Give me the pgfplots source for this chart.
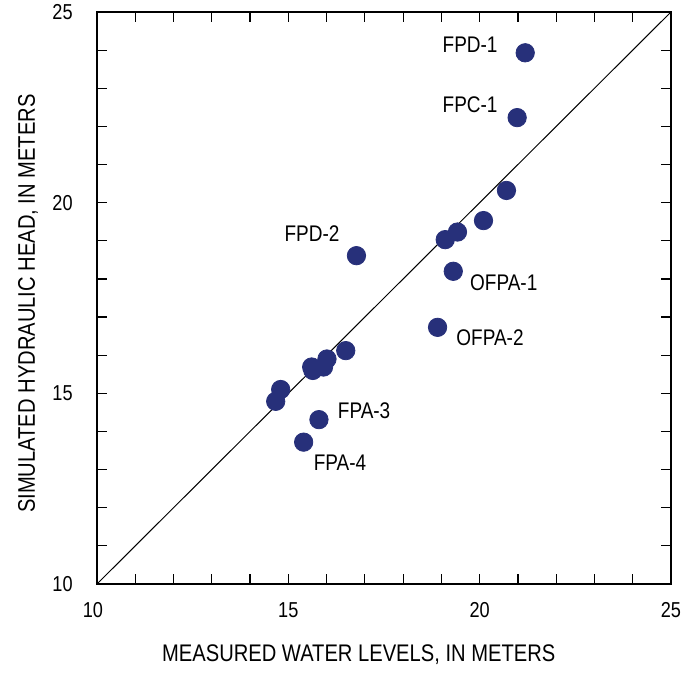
\documentclass[border=0pt]{standalone}
\usepackage{pgfplots}
\pgfplotsset{compat=1.18}
\usepackage{fontspec}
\setmainfont{Liberation Sans}[FakeStretch=0.84]
\definecolor{navy}{HTML}{27307A}
\begin{document}
\begin{tikzpicture}
\begin{axis}[
  name=a,
  scale only axis,
  width=287pt, height=286pt,
  xmin=10, xmax=25, ymin=10, ymax=25,
  xtick={10,15,20,25}, ytick={10,15,20,25},
  xticklabels={\hspace*{-4pt}10,15,20,25},
  yticklabels={\raisebox{-2pt}{10},15,20,\raisebox{-2.5pt}{25}},
  minor tick num=4,
  major tick length=5pt, minor tick length=5pt,
  tick align=inside,
  tick style={black, line width=0.6pt},
  axis line style={line width=0.6pt},
  /pgf/number format/assume math mode=true,
  ticklabel style={font=\fontsize{10.8}{12}\selectfont},
  xticklabel style={anchor=center, yshift=-13pt},
  yticklabel style={anchor=east, inner sep=0pt, xshift=-12pt},
  xlabel={MEASURED WATER LEVELS, IN METERS},
  ylabel={SIMULATED HYDRAULIC HEAD, IN METERS},
  label style={font=\fontsize{12}{14}\selectfont},
  xlabel style={at={(axis description cs:0.456,-0.1233)}, anchor=center},
  ylabel style={at={(axis description cs:-0.1202,0.49)}, anchor=center},
  clip=false,
]
\addplot[black, line width=0.5pt, forget plot] coordinates {(10,10) (25,25)};
\addplot[only marks, mark=*, mark size=4.6pt, mark options={fill=navy, draw=navy}] coordinates {
(21.19,23.93)
(20.98,22.23)
(20.70,20.32)
(20.10,19.53)
(19.42,19.23)
(19.10,19.03)
(19.31,18.20)
(18.90,16.73)
(16.78,18.61)
(16.50,16.12)
(16.01,15.90)
(15.92,15.69)
(15.61,15.69)
(15.64,15.60)
(14.80,15.10)
(14.67,14.79)
(15.80,14.31)
(15.40,13.72)
};
\begin{scope}[every node/.style={font=\fontsize{11.3}{13}\selectfont}]
\node at (axis cs:19.75,24.15) {FPD-1};
\node at (axis cs:19.75,22.57) {FPC-1};
\node at (axis cs:15.62,19.18) {FPD-2};
\node at (axis cs:20.63,17.89) {OFPA-1};
\node at (axis cs:20.27,16.45) {OFPA-2};
\node at (axis cs:16.98,14.54) {FPA-3};
\node at (axis cs:16.35,13.17) {FPA-4};
\end{scope}
\end{axis}
\pgfresetboundingbox
\path ([shift={(-48.5pt,-44.5pt)}]a.south west) rectangle ([shift={(5pt,6pt)}]a.north east);
\end{tikzpicture}
\end{document}
